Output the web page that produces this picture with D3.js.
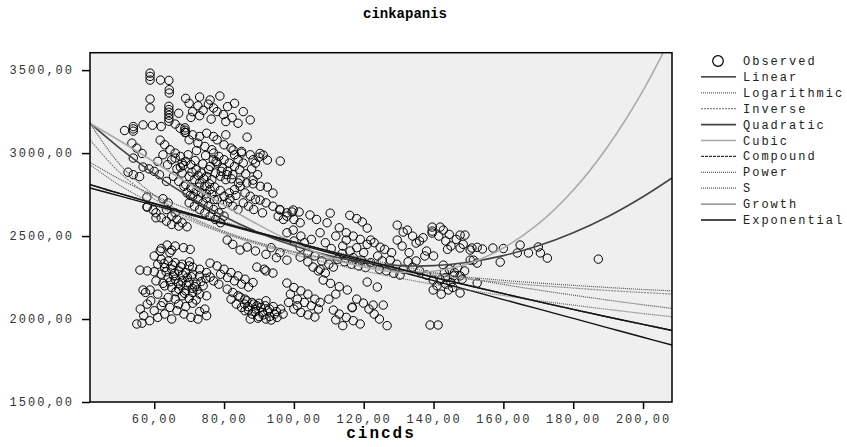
<!DOCTYPE html>
<html>
<head>
<meta charset="utf-8">
<script src="https://cdn.jsdelivr.net/npm/d3@7"></script>
<style>
  body { margin: 0; background: #fff; }
  text { font-family: "Liberation Mono", "DejaVu Sans Mono", monospace; }
</style>
</head>
<body>
<script>
// observed points [cincds, cinkapanis]
var puntosArriba = [
  [58.8,3482],[58.8,3462],[58.8,3440],[61.8,3440],[64.2,3438],[64.3,3382],[64.3,3362],[58.8,3326],[58.8,3272],
  [64.2,3282],[64.2,3262],[64.2,3246],[64.2,3228],[64.2,3210],[64.2,3192],
  [54,3160],[54,3146],[54,3132],[51.5,3136],[56.8,3170],[59.5,3168],[62,3160],[66,3175],
  [68.8,3152],[68.8,3138],[68.8,3124],
  [69,3330],[73,3338],[78.8,3344],[70,3300],[72.5,3285],[75.5,3295],[77,3272],[74,3258],[71,3250],[79.8,3232],
  [82.3,3214],[78,3250],[80.5,3190],[76.3,3205],[84,3180],[83,3300],[81,3280],[76,3320],[85.5,3250],[87.5,3200],
  [86.6,3096],[73,3225],[67,3240],[70.5,3215]
];
var puntosNucleo = [
  [52.5,2885],[54,2870],[55.8,2858],[53.6,3060],[55,3030],[56.5,2998],[54,2970],[56.8,2916],[58.5,2905],[60,2890],
  [61.5,2870],[63.5,2830],[57.9,2735],[59.7,2657],[58,2676],[60.5,2640],[62,2610],[63.5,2590],[65,2570],[67,2560],
  [61.7,3078],[63,3050],[64.5,3020],[66,3000],[67.5,2980],[62.5,2990],[65,2960],[68,2940],[61,2950],[63.8,2930],
  [66,2970],[67.5,2915],[69,2950],[70.5,2930],[72,2900],[73.5,2880],[75,2860],[76.5,2840],[68,2880],[70,2860],
  [71.5,2840],[73,2820],[74.5,2800],[76,2780],[69,2810],[70.5,2790],[72,2770],[65.5,2860],[67,2830],[68.5,2800],
  [67.4,3150],[69,3125],[71,3110],[73,3100],[70,3080],[72.5,3060],[74.5,3040],[76.5,3020],[78,3080],[80,3050],
  [82,3030],[75,3120],[77,3100],[80.5,3110],
  [77,3000],[78.5,2980],[80,2960],[81.5,2940],[83,2920],[84.5,2900],[78,2940],[79.5,2910],[81,2890],[82.5,2870],
  [77.5,2880],[79,2860],[80.5,2840],[76,2920],[84,2960],[85.5,2940],[83,2990],[85,3010],
  [82.6,3018],[85,3000],[87.5,2990],[90,2975],[90.3,2998],[92.4,2958],[96.1,2952],[91.2,2988],[88.3,2960],[89,2940],
  [69.4,2760],[71,2740],[72.5,2720],[74,2700],[75.5,2680],[77,2660],[78.5,2640],[80,2620],[70,2700],[71.5,2680],
  [73,2660],[74.5,2640],[76,2620],[77.5,2600],[79,2580],[81,2700],[82.5,2680],[84,2660],[80,2740],[81.5,2760],
  [83,2780],[84.6,2800],[78,2720],[76.5,2750],[75,2730],[73.5,2760],
  [84.6,2837],[86.5,2820],[88.3,2837],[88.3,2815],[90.4,2800],[92.4,2795],[94,2759],[90.3,2717],[92,2700],[94,2680],
  [96,2660],[98,2640],[95.5,2620],[97,2600],[99.8,2657],[101.5,2645],[99.8,2536],[86,2760],[87.5,2740],[89,2720],
  [85.5,2700],[87,2680],[88.5,2660],[91,2640],
  [57.9,2675],[60.5,2610],[63.5,2660],[65,2620],[66.5,2600],[68,2580],[69.4,2556],[66,2640],[64,2700],[62.5,2725],
  [66.5,2905],[68.3,2925],[70.8,2885],[72.6,2865],[74.2,2845],[75.8,2815],[77.3,2795],[78.9,2775],[71.7,2955],[73.9,2935],
  [75.6,2900],[77.7,2950],[79.2,2890],[80.8,2870],[82.1,2845],[69.7,2990],[72.1,3015],[74.7,2985],[76.9,2960],[70.3,2745],
  [72.8,2795],[74.9,2755],[77.2,2720],[79.6,2690],[81.7,2725],[83.4,2745],[86.2,2875],[87.9,2905],[89.6,2870],[84.1,2820]
];
var puntosBanda = [
  [96,2657],[98,2620],[100,2600],[101.8,2580],[99.5,2645],[104.6,2627],[106.5,2600],[109.5,2580],[110.4,2638],[116,2625],
  [118,2605],[119.6,2585],[113,2550],[115,2520],[117,2500],[119,2480],[121,2450],[115,2476],[121,2548],[122,2476],
  [124.7,2433],[123,2460],[114,2440],[118,2430],[112,2500],
  [101.8,2433],[104,2400],[106,2380],[108,2350],[110,2330],[111.3,2313],[105.5,2313],[107,2290],[109,2277],[103,2460],
  [100,2470],[102,2500],[98,2520],[105,2480],[107.5,2520],[109,2460],
  [129.6,2566],[131.3,2524],[129.6,2476],[132.5,2536],[134,2500],[136,2470],[135,2458],[139.6,2554],[139.6,2530],[139.6,2518],
  [137,2490],[127.6,2355],[129.5,2330],[131.3,2300],[126,2420],[128,2400],[124,2380],[120,2400],[117,2370],[122,2340],
  [112.5,2360],[114.5,2345],[116.5,2330],[118.5,2320],[120.5,2310],[124.5,2300],[126.5,2290],[128.6,2275],[130.4,2265],[132.7,2345],
  [125.3,2350],[119.3,2355],[113.8,2395],[116.1,2410],[110.7,2425]
];
var puntosDerecha = [
  [134,2313],[136,2290],[138,2265],[139.9,2235],[139.9,2175],[141.9,2235],[143.5,2210],[145.5,2190],[147.6,2157],[142.8,2325],
  [144.5,2300],[146,2280],[147.6,2260],[143.5,2250],[145,2220],[141,2200],[152.5,2217],
  [142.8,2536],[144.5,2510],[146.5,2480],[148.5,2450],[150.5,2416],[147.6,2506],[149,2506],[141.9,2554],[143.5,2470],
  [145,2440],[141.5,2500],[144,2420],
  [147.6,2428],[151,2428],[154,2422],[157,2428],[160,2425],[152.5,2432],[150.5,2355],[152.5,2337],[159.1,2343],[151.4,2355],
  [164,2398],[164.8,2446],[167.2,2398],[170,2434],[170.6,2398],[172.6,2367],[187.2,2361],
  [137.5,2380],[135,2350],[133,2400],[131,2440],[138,2410],[140,2380],
  [143.1,2280],[145.7,2260],[148.2,2240],[146.9,2310],[148.9,2290],[142.2,2150],[144.3,2175]
];
var puntosAbajo = [
  [63.7,2446],[66,2440],[68.4,2430],[70.3,2420],[65,2415],[62,2425],[64.5,2400],[61.7,2410],
  [55.9,2295],[58,2290],[60,2285],[56.8,2175],[58.8,2175],[57.5,2160],
  [60,2380],[62,2360],[64,2350],[66,2340],[68,2330],[70,2320],[61,2330],[63,2310],[65,2300],[67,2290],
  [69,2280],[71,2270],[73,2260],[62,2270],[64,2250],[66,2240],[68,2230],[70,2220],[72,2210],[74,2200],
  [63,2200],[65,2190],[67,2180],[69,2170],[71,2160],[73,2150],[75,2140],[61,2150],[64,2130],[66,2120],
  [68,2140],[70,2125],[72,2115],[60.5,2230],[62.5,2215],[65.5,2260],[67.5,2205],[69.5,2250],
  [55,1970],[56.5,1975],[58.7,1990],[57,2020],[60,2050],[62,2080],[59,2110],[63,2030],[56,2060],[58,2090],[61,2010],
  [62.5,2100],[64.5,2070],[66.5,2050],[68.5,2030],[70.5,2010],[72.5,2000],[74.5,2060],[67,2090],[69,2075],[71,2095],
  [73,2045],[75,2020],[65,2000],
  [71,2313],[73,2300],[75,2280],[76,2253],
  [76,2337],[78,2320],[80,2300],[82,2280],[84,2260],[86,2240],[88.3,2220],[79,2270],[81,2250],[83,2230],
  [85,2210],[87,2193],[77,2230],[78.5,2210],
  [80.9,2180],[82.5,2160],[84,2140],[86,2120],[88,2100],[89.4,2080],[82,2120],[83.5,2090],[85,2070],[87,2054],
  [84.6,2132],[86.5,2110],[88.5,2090],[90.5,2070],[92.5,2050],[94.5,2030],[95.2,2010],[86,2050],[88,2030],[90,2015],
  [92,2000],[93.5,1994],[89,2060],[91,2040],[93,2060],[95,2045],[87.5,2000],[90,2095],[92,2110],
  [89.4,2313],[91.5,2300],[94,2277],[92,2290],
  [98,2217],[100,2190],[102,2170],[104,2150],[106,2120],[107.5,2100],[99,2150],[101,2120],[103,2100],[105,2080],
  [107,2060],[100,2060],[102,2040],[104,2025],[106,2012],[98.5,2100],[101,2080],
  [80.9,2476],[82.5,2450],[84.6,2416],[86.6,2434],[89,2410],[92,2390],[95,2370],[98,2355],[101.8,2373],[104,2345],
  [107.5,2300],[96,2400],[93.5,2430],
  [63.4,2285],[65.8,2275],[68.2,2265],[70.6,2255],[64.6,2225],[66.9,2215],[69.3,2205],[71.6,2195],[62.8,2335],[65.2,2325],
  [67.6,2315],[70.1,2345],[73.4,2225],[74.8,2245],[66.2,2165],[68.7,2155],[70.9,2185],[72.3,2175],
  [86.8,2075],[88.9,2045],[91.2,2025],[93.1,2015],[89.7,2005],[91.8,2080],[94.1,2075],[96.2,2060],[96.9,2030],[85.9,2090]
];
var puntosAbajoDerecha = [
  [108.4,2235],[110.5,2215],[113,2195],[115.3,2175],[116.7,2072],[116.7,2068],[111.3,2054],[113,2030],[115,2010],[117,1990],
  [119,1970],[112,1995],[114,1960],[119.9,2096],[121.5,2060],[123,2030],[124.5,2000],[126.7,1960],[122.7,2084],[125.6,2084],
  [121,2223],[123.9,2193],[139,1964],[141.3,1964],[118,2120],[110,2120],[112,2150]
];

// fitted curves at these cincds values
var xCurvas = [41.6, 50, 60, 70, 80, 90, 100, 110, 120, 130, 140, 150, 160, 170, 180, 190, 200, 208.3];
var yLinear      = [2790,2742,2685,2629,2572,2515,2458,2401,2345,2288,2231,2174,2117,2061,2004,1947,1890,1843];
var yLogarithmic = [2945,2844,2745,2660,2587,2523,2465,2413,2366,2322,2281,2244,2208,2175,2144,2114,2086,2064];
var yInverse     = [3080,2885,2724,2609,2522,2455,2401,2357,2321,2290,2263,2240,2220,2202,2187,2172,2160,2150];
var yQuadratic   = [3180,3032,2875,2737,2618,2520,2441,2382,2342,2322,2322,2342,2382,2441,2520,2618,2737,2850];
var yCubic       = [3180,3076,2946,2814,2686,2566,2460,2374,2313,2282,2288,2334,2428,2573,2776,3043,3377,3711];
var yCompound    = [2810,2757,2696,2636,2577,2520,2464,2409,2356,2303,2252,2202,2153,2105,2058,2012,1968,1931];
var yPower       = [2930,2807,2691,2596,2516,2448,2389,2337,2290,2248,2209,2174,2142,2111,2084,2058,2033,2014];
var yS           = [3180,2935,2747,2620,2529,2460,2406,2363,2328,2298,2273,2252,2233,2217,2203,2190,2178,2170];
var yGrowth      = yCompound;
var yExponential = yCompound;

var etiquetas = ["Linear","Logarithmic","Inverse","Quadratic","Cubic","Compound","Power","S","Growth","Exponential"];
var xTicks = [60, 80, 100, 120, 140, 160, 180, 200];
var yTicks = [1500, 2000, 2500, 3000, 3500];

var width = 847, height = 447;
var margen = { arriba: 52.7, abajo: 45, izquierda: 90, derecha: 175 };

var escalaX = d3.scaleLinear().domain([41.6, 208.3]).range([margen.izquierda, width - margen.derecha]);
var escalaY = d3.scaleLinear().domain([1500, 3605]).range([height - margen.abajo, margen.arriba]);

var coma = d3.formatLocale({ decimal: ",", thousands: ".", grouping: [3], currency: ["", ""] }).format(".2f");

var svg = d3.select("body").append("svg").attr("width", width).attr("height", height);

svg.append("defs").append("clipPath").attr("id", "recorte")
  .append("rect")
  .attr("x", escalaX.range()[0]).attr("y", escalaY.range()[1])
  .attr("width", escalaX.range()[1] - escalaX.range()[0])
  .attr("height", escalaY.range()[0] - escalaY.range()[1]);

svg.append("rect")
  .attr("x", escalaX.range()[0]).attr("y", escalaY.range()[1])
  .attr("width", escalaX.range()[1] - escalaX.range()[0])
  .attr("height", escalaY.range()[0] - escalaY.range()[1])
  .attr("fill", "#efefef");

// axes
var ejeX = d3.axisBottom(escalaX).tickValues(xTicks).tickSize(7).tickSizeOuter(0).tickFormat(coma);
var gX = svg.append("g").attr("transform", "translate(0," + escalaY.range()[0] + ")").call(ejeX);
var ejeY = d3.axisLeft(escalaY).tickValues(yTicks).tickSize(8).tickSizeOuter(0).tickFormat(coma);
var gY = svg.append("g").attr("transform", "translate(" + escalaX.range()[0] + ",0)").call(ejeY);
[gX, gY].forEach(function (g) {
  g.select(".domain").remove();
  g.selectAll(".tick line").attr("stroke", "#000").attr("stroke-width", 1.5);
  g.selectAll(".tick text").attr("fill", "#333").style("font-size", "12px").style("letter-spacing", "2px");
});
gX.selectAll(".tick text").attr("y", 12);
gY.selectAll(".tick text").attr("x", -16);

// observed
var todos = puntosArriba.concat(puntosNucleo, puntosBanda, puntosDerecha, puntosAbajo, puntosAbajoDerecha);
svg.append("g").selectAll("circle")
  .data(todos)
  .join("circle")
  .attr("cx", d => escalaX(d[0]))
  .attr("cy", d => escalaY(d[1]))
  .attr("r", 4.2)
  .attr("fill", "none")
  .attr("stroke", "#000")
  .attr("stroke-width", 1);

// curves
var estilos = {
  Linear:      { valores: yLinear,      color: "#111", ancho: 1.4, guion: null },
  Logarithmic: { valores: yLogarithmic, color: "#555", ancho: 1.2, guion: "1,1" },
  Inverse:     { valores: yInverse,     color: "#888", ancho: 1.2, guion: "2,1" },
  Quadratic:   { valores: yQuadratic,   color: "#444", ancho: 1.6, guion: null },
  Cubic:       { valores: yCubic,       color: "#aaa", ancho: 1.6, guion: null },
  Compound:    { valores: yCompound,    color: "#333", ancho: 1.4, guion: "3,1" },
  Power:       { valores: yPower,       color: "#666", ancho: 1.2, guion: "1,1" },
  S:           { valores: yS,           color: "#555", ancho: 1.2, guion: "1,1" },
  Growth:      { valores: yGrowth,      color: "#777", ancho: 1.2, guion: null },
  Exponential: { valores: yExponential, color: "#111", ancho: 1.4, guion: null }
};

var linea = d3.line()
  .x(d => escalaX(d[0]))
  .y(d => escalaY(d[1]))
  .curve(d3.curveCatmullRom);

var gCurvas = svg.append("g").attr("clip-path", "url(#recorte)");
etiquetas.forEach(function (nombre) {
  var e = estilos[nombre];
  gCurvas.append("path")
    .datum(xCurvas.map((x, i) => [x, e.valores[i]]))
    .attr("d", linea)
    .attr("fill", "none")
    .attr("stroke", e.color)
    .attr("stroke-width", e.ancho)
    .attr("stroke-dasharray", e.guion);
});

// frame
svg.append("rect")
  .attr("x", escalaX.range()[0]).attr("y", escalaY.range()[1])
  .attr("width", escalaX.range()[1] - escalaX.range()[0])
  .attr("height", escalaY.range()[0] - escalaY.range()[1])
  .attr("fill", "none").attr("stroke", "#000").attr("stroke-width", 1.5);

// titles
svg.append("text")
  .attr("x", 405).attr("y", 18)
  .attr("text-anchor", "middle")
  .style("font-size", "14px").style("font-weight", "bold")
  .text("cinkapanis");

svg.append("text")
  .attr("x", (escalaX.range()[0] + escalaX.range()[1]) / 2).attr("y", 438)
  .attr("text-anchor", "middle")
  .style("font-size", "16px").style("font-weight", "bold").style("letter-spacing", "2px")
  .text("cincds");

// legend
var leyenda = svg.append("g").attr("transform", "translate(701,61)");
leyenda.append("circle").attr("cx", 17).attr("cy", 0).attr("r", 5.3)
  .attr("fill", "none").attr("stroke", "#000").attr("stroke-width", 1.2);
leyenda.append("text").attr("x", 42).attr("y", 4)
  .style("font-size", "12px").style("letter-spacing", "2px").attr("fill", "#222")
  .text("Observed");
etiquetas.forEach(function (nombre, i) {
  var e = estilos[nombre];
  var yy = (i + 1) * 15.9;
  leyenda.append("line")
    .attr("x1", 0).attr("x2", 35).attr("y1", yy).attr("y2", yy)
    .attr("stroke", e.color).attr("stroke-width", e.ancho)
    .attr("stroke-dasharray", e.guion);
  leyenda.append("text").attr("x", 42).attr("y", yy + 4)
    .style("font-size", "12px").style("letter-spacing", "2px").attr("fill", "#222")
    .text(nombre);
});
</script>
</body>
</html>
